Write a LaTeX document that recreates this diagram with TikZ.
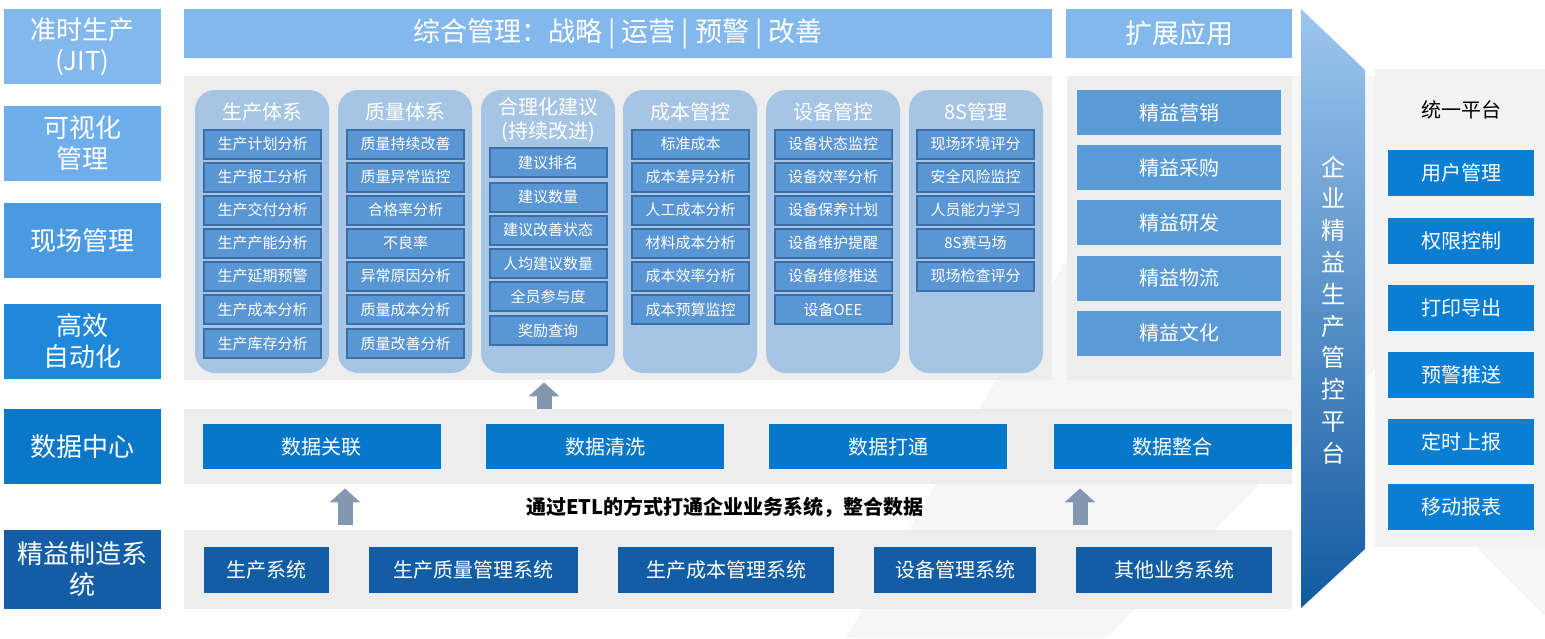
\documentclass[tikz,border=0pt]{standalone}
\usepackage{fontspec}
\setmainfont{Noto Sans CJK SC}
\usetikzlibrary{arrows.meta}
\definecolor{jitblue}{HTML}{83B8EC}
\definecolor{visblue}{HTML}{6EAEEA}
\definecolor{siteblue}{HTML}{4A9AE2}
\definecolor{autoblue}{HTML}{1F88D8}
\definecolor{dcblue}{HTML}{0A77C8}
\definecolor{leanblue}{HTML}{135EA6}
\definecolor{panelgrey}{HTML}{EDEDED}
\definecolor{rightgrey}{HTML}{F2F2F2}
\definecolor{bggrey}{HTML}{F6F6F6}
\definecolor{colblue}{HTML}{A6C4E3}
\definecolor{itemblue}{HTML}{5A96D4}
\definecolor{itemedge}{HTML}{3C6DA5}
\definecolor{extblue}{HTML}{5B9BD5}
\definecolor{datablue}{HTML}{0677C9}
\definecolor{sysblue}{HTML}{125DA3}
\definecolor{funcblue}{HTML}{0A7ED2}
\definecolor{arrgrey}{HTML}{8497B0}
\definecolor{plattop}{HTML}{9DC6EF}
\definecolor{platmid}{HTML}{3B94E0}
\definecolor{platbot}{HTML}{115AA0}
\begin{document}
\begin{tikzpicture}[x=0.5pt,y=-0.5pt]
        \tikzstyle{side}=[text=white,minimum width=78.5pt,minimum height=37.5pt,inner sep=0pt,align=center,font=\fontsize{13}{15.5}\selectfont]
        \tikzstyle{bar}=[fill=jitblue,text=white,minimum height=24.5pt,inner sep=0pt,font=\fontsize{13.5}{16}\selectfont]
        \tikzstyle{panel}=[fill=panelgrey,inner sep=0pt]
        \tikzstyle{column}=[fill=colblue,rounded corners=10pt,minimum width=67pt,minimum height=141.5pt,inner sep=0pt]
        \tikzstyle{title}=[text=white,align=center,font=\fontsize{10}{12}\selectfont]
        \tikzstyle{item}=[fill=itemblue,draw=itemedge,line width=1pt,text=white,minimum width=58.5pt,minimum height=14.5pt,inner sep=0pt,font=\fontsize{7.5}{9}\selectfont]
        \tikzstyle{ext}=[fill=extblue,text=white,minimum width=102pt,minimum height=22.5pt,inner sep=0pt,font=\fontsize{10}{12}\selectfont]
        \tikzstyle{databox}=[fill=datablue,text=white,minimum width=119pt,minimum height=22.5pt,inner sep=0pt,font=\fontsize{10}{12}\selectfont]
        \tikzstyle{sysbox}=[fill=sysblue,text=white,minimum height=23pt,inner sep=0pt,font=\fontsize{10}{12}\selectfont]
        \tikzstyle{func}=[fill=funcblue,text=white,minimum width=73pt,minimum height=23pt,inner sep=0pt,font=\fontsize{10}{12}\selectfont]
        \tikzstyle{uparr}=[draw=arrgrey,line width=7.5pt,-{Triangle[width=15pt,length=7pt]}]
        \useasboundingbox (0,0) rectangle (1545,638);
        \fill[bggrey] (1173,76) -- (1545,76) -- (1545,199) -- (1106,638) -- (846,638) -- cycle;
        \fill[bggrey] (1476,547) -- (1545,547) -- (1545,616) -- cycle;

        \node [side,fill=jitblue] (l1) at (82.5,46.5) {准时生产\\(JIT)};
        \node [side,fill=visblue] (l2) at (82.5,143.5) {可视化\\管理};
        \node [side,fill=siteblue] (l3) at (82.5,240.5) {现场管理};
        \node [side,fill=autoblue] (l4) at (82.5,341.5) {高效\\自动化};
        \node [side,fill=dcblue] (l5) at (82.5,446.5) {数据中心};
        \node [side,fill=leanblue,minimum height=39.5pt] (l6) at (82.5,569.5) {精益制造系\\统};

        \node [bar,minimum width=434pt] (top) at (618,33.5) {综合管理：战略 | 运营 | 预警 | 改善};
        \node [bar,minimum width=113pt] (ext) at (1179,33.5) {扩展应用};

        \node [panel,minimum width=434pt,minimum height=152pt] (main) at (618,228) {};
        \node [panel,minimum width=112.5pt,minimum height=152pt] (extp) at (1179.5,228) {};
        \node [panel,minimum width=554pt,minimum height=37.5pt] (dc) at (738,446.5) {};
        \node [panel,minimum width=554pt,minimum height=39.5pt] (sys) at (738,569.5) {};
        \node [panel,fill=rightgrey,minimum width=85pt,minimum height=239pt] (uni) at (1460,308) {};

        \node [column] (c1) at (262,231.5) {};
        \node [column] (c2) at (405,231.5) {};
        \node [column] (c3) at (548,231.5) {};
        \node [column] (c4) at (690,231.5) {};
        \node [column] (c5) at (833,231.5) {};
        \node [column] (c6) at (976,231.5) {};
        \node [title] (t1) at (262,112) {生产体系};
        \node [title] (t2) at (405,112) {质量体系};
        \node [title] (t3) at (548,120) {合理化建议\\(持续改进)};
        \node [title] (t4) at (690,112) {成本管控};
        \node [title] (t5) at (833,112) {设备管控};
        \node [title] (t6) at (976,112) {8S管理};

        \node [item] (p1) at (262.5,144) {生产计划分析};
        \node [item] (p2) at (262.5,177) {生产报工分析};
        \node [item] (p3) at (262.5,210) {生产交付分析};
        \node [item] (p4) at (262.5,243) {生产产能分析};
        \node [item] (p5) at (262.5,276) {生产延期预警};
        \node [item] (p6) at (262.5,309.5) {生产成本分析};
        \node [item] (p7) at (262.5,343.5) {生产库存分析};

        \node [item] (q1) at (405.5,144) {质量持续改善};
        \node [item] (q2) at (405.5,177) {质量异常监控};
        \node [item] (q3) at (405.5,210) {合格率分析};
        \node [item] (q4) at (405.5,243) {不良率};
        \node [item] (q5) at (405.5,276) {异常原因分析};
        \node [item] (q6) at (405.5,309.5) {质量成本分析};
        \node [item] (q7) at (405.5,343.5) {质量改善分析};

        \node [item] (r1) at (548,162.5) {建议排名};
        \node [item] (r2) at (548,197) {建议数量};
        \node [item] (r3) at (548,230) {建议改善状态};
        \node [item] (r4) at (548,263.5) {人均建议数量};
        \node [item] (r5) at (548,296.5) {全员参与度};
        \node [item] (r6) at (548,330.5) {奖励查询};

        \node [item] (k1) at (690.5,144) {标准成本};
        \node [item] (k2) at (690.5,177) {成本差异分析};
        \node [item] (k3) at (690.5,210) {人工成本分析};
        \node [item] (k4) at (690.5,243) {材料成本分析};
        \node [item] (k5) at (690.5,276) {成本效率分析};
        \node [item] (k6) at (690.5,309.5) {成本预算监控};

        \node [item] (e1) at (833,144) {设备状态监控};
        \node [item] (e2) at (833,177) {设备效率分析};
        \node [item] (e3) at (833,210) {设备保养计划};
        \node [item] (e4) at (833,243) {设备维护提醒};
        \node [item] (e5) at (833,276) {设备维修推送};
        \node [item] (e6) at (833,309.5) {设备OEE};

        \node [item] (s1) at (975.5,144) {现场环境评分};
        \node [item] (s2) at (975.5,177) {安全风险监控};
        \node [item] (s3) at (975.5,210) {人员能力学习};
        \node [item] (s4) at (975.5,243) {8S赛马场};
        \node [item] (s5) at (975.5,276) {现场检查评分};

        \node [ext] (x1) at (1179,112.5) {精益营销};
        \node [ext] (x2) at (1179,167.5) {精益采购};
        \node [ext] (x3) at (1179,222.5) {精益研发};
        \node [ext] (x4) at (1179,278) {精益物流};
        \node [ext] (x5) at (1179,333) {精益文化};

        \node [databox] (d1) at (321.5,446.5) {数据关联};
        \node [databox] (d2) at (605,446.5) {数据清洗};
        \node [databox] (d3) at (888,446.5) {数据打通};
        \node [databox] (d4) at (1172.5,446.5) {数据整合};

        \node [font=\bfseries\fontsize{10}{12}\selectfont] (etl) at (725,507) {通过ETL的方式打通企业业务系统，整合数据};

        \node [sysbox,minimum width=62.5pt] (b1) at (266.5,570) {生产系统};
        \node [sysbox,minimum width=104.5pt] (b2) at (473.5,570) {生产质量管理系统};
        \node [sysbox,minimum width=108pt] (b3) at (726,570) {生产成本管理系统};
        \node [sysbox,minimum width=81pt] (b4) at (955,570) {设备管理系统};
        \node [sysbox,minimum width=98pt] (b5) at (1174,570) {其他业务系统};

        \shade[top color=plattop,middle color=platmid,bottom color=platbot] (1301,9) -- (1365,70) -- (1365,549) -- (1301,608) -- cycle;
        \node [text=white,align=center,inner sep=0pt,font=\fontsize{12}{15.9}\selectfont] (vt) at (1333,310) {企\\业\\精\\益\\生\\产\\管\\控\\平\\台};

        \node [font=\fontsize{10}{12}\selectfont] (ut) at (1461,110) {统一平台};
        \node [func] (f1) at (1461,173) {用户管理};
        \node [func] (f2) at (1461,240.5) {权限控制};
        \node [func] (f3) at (1461,307.5) {打印导出};
        \node [func] (f4) at (1461,375) {预警推送};
        \node [func] (f5) at (1461,442) {定时上报};
        \node [func] (f6) at (1461,507) {移动报表};

        \coordinate (a1) at (345,0);
        \coordinate (a2) at (1080,0);
        \coordinate (a3) at (544,0);
        \draw[uparr,shorten <=2.5pt,shorten >=2pt] (sys.north -| a1) -- (dc.south -| a1);
        \draw[uparr,shorten <=2.5pt,shorten >=2pt] (sys.north -| a2) -- (dc.south -| a2);
        \draw[uparr,shorten >=1pt] (dc.north -| a3) -- (main.south -| a3);
\end{tikzpicture}
\end{document}
